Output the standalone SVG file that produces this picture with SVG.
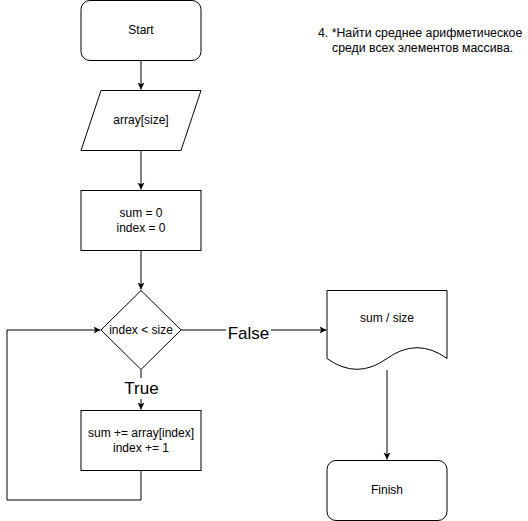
<svg xmlns="http://www.w3.org/2000/svg" width="528" height="521" viewBox="0 0 528 521">
<style>
.s{fill:#fff;stroke:#000;stroke-width:1}
.t{font-family:"Liberation Sans",Arial,sans-serif;font-size:12px;fill:#000;text-anchor:middle;dominant-baseline:central}
.l{font-family:"Liberation Sans",Arial,sans-serif;font-size:17px;fill:#000;text-anchor:middle;dominant-baseline:central}
.n{font-size:12.3px;text-anchor:start}
.c{fill:none;stroke:#000;stroke-width:1}
</style>
<defs>
<marker id="a" markerWidth="8" markerHeight="8" viewBox="0 0 8 8" refX="7" refY="4" orient="auto" markerUnits="userSpaceOnUse">
<path d="M0,0.5 L7,4 L0,7.5 L1.8,4 Z" fill="#000"/>
</marker>
</defs>
<rect width="528" height="521" fill="#fff"/>
<g id="connectors">
<path class="c" d="M141,60.5 V89.5" marker-end="url(#a)"/>
<path class="c" d="M141,150.5 V189.5" marker-end="url(#a)"/>
<path class="c" d="M141,250.5 V289.5" marker-end="url(#a)"/>
<path class="c" d="M181,330 H326.5" marker-end="url(#a)"/>
<path class="c" d="M141,370 V409.5" marker-end="url(#a)"/>
<path class="c" d="M141,470.5 V500 H7 V330 H100.5" marker-end="url(#a)"/>
<path class="c" d="M387,370 V459.5" marker-end="url(#a)"/>
<rect x="226" y="322" width="45" height="22" fill="#fff"/>
<text class="l" x="248.5" y="333">False</text>
<rect x="124" y="378" width="35" height="21" fill="#fff"/>
<text class="l" x="141.5" y="388">True</text>
</g>
<g id="start">
<rect class="s" x="81" y="0.5" width="120" height="60" rx="9"/>
<text class="t" x="141" y="30">Start</text>
</g>
<g id="input">
<path class="s" d="M101,90.5 H201 L181,150.5 H81 Z"/>
<text class="t" x="141" y="120">array[size]</text>
</g>
<g id="init">
<rect class="s" x="81" y="190.5" width="120" height="60"/>
<text class="t" x="141" y="213">sum = 0</text>
<text class="t" x="141" y="228">index = 0</text>
</g>
<g id="cond">
<path class="s" d="M141,290.5 L181,330 L141,369.5 L101,330 Z"/>
<text class="t" x="141" y="330">index &lt; size</text>
</g>
<g id="body">
<rect class="s" x="81" y="410.5" width="120" height="60"/>
<text class="t" x="141" y="433">sum += array[index]</text>
<text class="t" x="141" y="448">index += 1</text>
</g>
<g id="output">
<path class="s" d="M327,290.5 H447 V358.5 Q417,336.9 387,358.5 Q357,380.1 327,358.5 Z"/>
<text class="t" x="387" y="318">sum / size</text>
</g>
<g id="finish">
<rect class="s" x="327" y="460.5" width="120" height="60" rx="9"/>
<text class="t" x="387" y="490">Finish</text>
</g>
<g id="note">
<text class="t n" x="318" y="33">4. *Найти среднее арифметическое</text>
<text class="t n" x="332" y="48">среди всех элементов массива.</text>
</g>
</svg>
